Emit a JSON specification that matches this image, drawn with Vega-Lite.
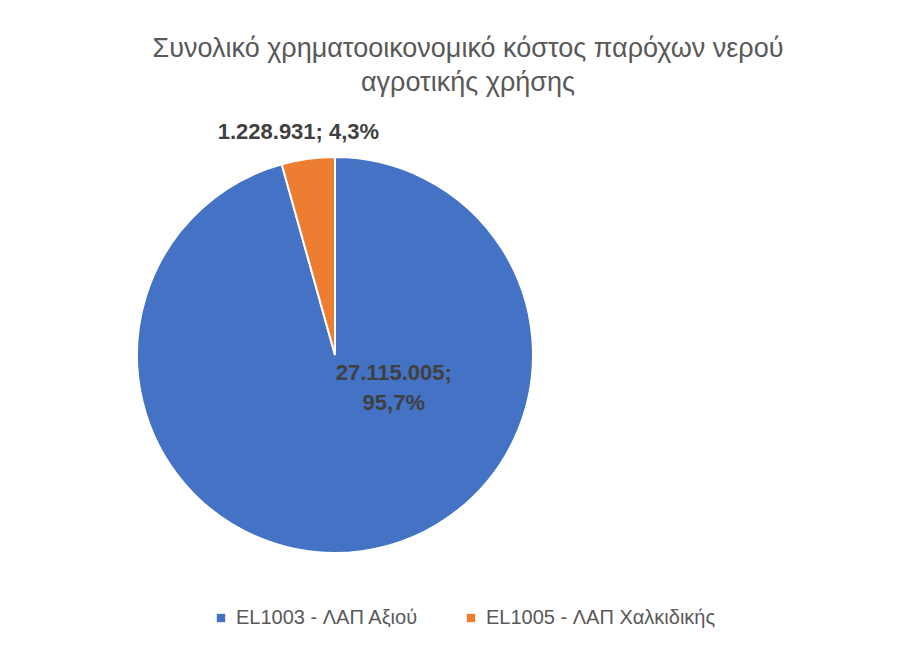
{
  "$schema": "https://vega.github.io/schema/vega-lite/v6.json",
  "padding": {"left": 133, "top": 35, "right": 10, "bottom": 10},
  "width": 396,
  "height": 396,
  "background": "white",
  "title": {
    "text": ["Συνολικό χρηματοοικονομικό κόστος παρόχων νερού", "αγροτικής χρήσης"],
    "font": "Liberation Sans",
    "fontSize": 27,
    "fontWeight": "normal",
    "color": "#595959",
    "lineHeight": 34,
    "anchor": "middle",
    "dx": 133,
    "offset": 24
  },
  "data": {
    "values": [
      {"Category": "EL1003 - ΛΑΠ Αξιού", "Value": 27115005, "Label": "27.115.005;\n95,7%"},
      {"Category": "EL1005 - ΛΑΠ Χαλκιδικής", "Value": 1228931, "Label": "1.228.931; 4,3%"}
    ]
  },
  "encoding": {
    "theta": {"field": "Value", "type": "quantitative", "stack": true},
    "order": {"field": "Value", "type": "quantitative", "sort": "descending"},
    "color": {
      "field": "Category",
      "type": "nominal",
      "scale": {"domain": ["EL1003 - ΛΑΠ Αξιού", "EL1005 - ΛΑΠ Χαλκιδικής"], "range": ["#4472C4", "#ED7D31"]},
      "legend": {
        "title": null,
        "orient": "none",
        "direction": "horizontal",
        "legendX": 74,
        "legendY": 451,
        "symbolType": "square",
        "symbolSize": 70,
        "symbolStrokeWidth": 0,
        "labelFont": "Liberation Sans",
        "labelFontSize": 20,
        "labelColor": "#595959",
        "labelLimit": 0,
        "columnPadding": 42,
        "labelOffset": 5
      }
    }
  },
  "layer": [
    {
      "mark": {"type": "arc", "outerRadius": 198, "stroke": "white", "strokeWidth": 2}
    },
    {
      "mark": {"type": "text", "radius": 225, "font": "Liberation Sans", "fontSize": 22, "fontWeight": "bold", "align": "center", "baseline": "middle", "dx": -6},
      "encoding": {
        "color": {"value": "#404040"},
        "detail": {"field": "Category", "type": "nominal"},
        "text": {"condition": {"test": "datum.Category === 'EL1005 - ΛΑΠ Χαλκιδικής'", "field": "Label"}, "value": ""}
      }
    },
    {
      "mark": {"type": "text", "radius": 72, "font": "Liberation Sans", "fontSize": 22, "fontWeight": "bold", "align": "center", "baseline": "middle", "lineBreak": "\n", "lineHeight": 30, "dx": 49, "dy": -53},
      "encoding": {
        "color": {"value": "#404040"},
        "detail": {"field": "Category", "type": "nominal"},
        "text": {"condition": {"test": "datum.Category === 'EL1003 - ΛΑΠ Αξιού'", "field": "Label"}, "value": ""}
      }
    }
  ],
  "config": {"view": {"stroke": null}}
}
